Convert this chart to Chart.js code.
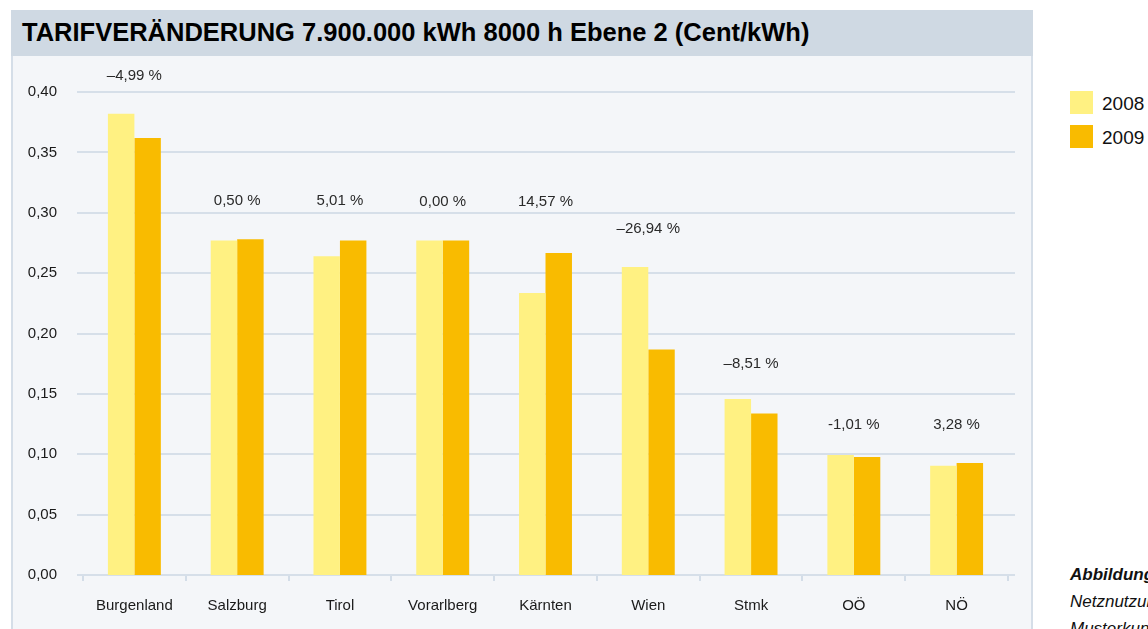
<!DOCTYPE html>
<html>
<head>
<meta charset="utf-8">
<script src="https://cdn.jsdelivr.net/npm/chart.js@4"></script>
<style>
  html, body { margin: 0; padding: 0; background: #fff; width: 1148px; height: 629px; overflow: hidden; font-family: "Liberation Sans", Arial, sans-serif; }
  .titel { position: absolute; left: 11px; top: 10px; width: 1022px; height: 46px; background: #cfd9e3; }
  .titel span { position: absolute; left: 11px; top: 8px; font-weight: bold; font-size: 25.5px; color: #000; white-space: nowrap; }
  .panel { position: absolute; left: 11px; top: 56px; width: 1018px; height: 580px; background: #f4f6f9; border-left: 2px solid #d5dee8; border-right: 2px solid #d5dee8; }
  #graficoTarif { position: absolute; left: 12px; top: 56px; }
  .legende { position: absolute; left: 1070px; top: 91px; font-size: 19px; color: #111; }
  .legende div { height: 34px; white-space: nowrap; }
  .legende i { display: inline-block; width: 23px; height: 23px; vertical-align: top; margin-right: 9px; }
  .legende span { display: inline-block; line-height: 25px; vertical-align: top; }
  .caption { position: absolute; left: 1070px; top: 561px; font-size: 17px; font-style: italic; color: #111; white-space: nowrap; line-height: 27px; }
</style>
</head>
<body>
<div class="titel"><span>TARIFVERÄNDERUNG 7.900.000 kWh 8000 h Ebene 2 (Cent/kWh)</span></div>
<div class="panel"></div>
<canvas id="graficoTarif" width="1021" height="573"></canvas>
<div class="legende">
  <div><i style="background:#fff182"></i><span>2008</span></div>
  <div><i style="background:#f9bb00"></i><span>2009</span></div>
</div>
<div class="caption"><b>Abbildung 12:</b><br>Netznutzungstarife<br>Musterkunde</div>
<script>
const categorias = ['Burgenland', 'Salzburg', 'Tirol', 'Vorarlberg', 'Kärnten', 'Wien', 'Stmk', 'OÖ', 'NÖ'];
const werte2008 = [0.382, 0.277, 0.264, 0.277, 0.2335, 0.255, 0.1458, 0.0994, 0.0905];
const werte2009 = [0.362, 0.278, 0.277, 0.277, 0.2667, 0.1868, 0.1338, 0.0977, 0.0928];
const veraenderung = ['–4,99 %', '0,50 %', '5,01 %', '0,00 %', '14,57 %', '–26,94 %', '–8,51 %', '-1,01 %', '3,28 %'];
// altura (en Cent/kWh) donde va cada etiqueta de porcentaje
const etiquetaHoehe = [0.413, 0.310, 0.310, 0.309, 0.309, 0.287, 0.175, 0.124, 0.124];
const yTicks = ['0,00', '0,05', '0,10', '0,15', '0,20', '0,25', '0,30', '0,35', '0,40'];

const fuente = '"Liberation Sans", Arial, sans-serif';

// lineas horizontales un poco mas largas que el area
const gitterPlugin = {
  id: 'gitter',
  beforeDatasetsDraw(chart) {
    const { ctx, chartArea, scales } = chart;
    ctx.save();
    ctx.strokeStyle = '#d6dfe9';
    ctx.lineWidth = 2;
    scales.y.ticks.forEach(t => {
      const y = Math.round(scales.y.getPixelForValue(t.value));
      ctx.beginPath();
      ctx.moveTo(chartArea.left - 6, y);
      ctx.lineTo(chartArea.right + 7, y);
      ctx.stroke();
    });
    ctx.restore();
  }
};

// etiquetas de porcentaje encima de cada par
const prozentPlugin = {
  id: 'prozent',
  afterDatasetsDraw(chart) {
    const { ctx, scales } = chart;
    ctx.save();
    ctx.font = '15px ' + fuente;
    ctx.fillStyle = '#2a2a2a';
    ctx.textAlign = 'center';
    ctx.textBaseline = 'middle';
    categorias.forEach((c, i) => {
      const x = scales.x.getPixelForValue(i);
      const y = scales.y.getPixelForValue(etiquetaHoehe[i]);
      ctx.fillText(veraenderung[i], x, y);
    });
    ctx.restore();
  }
};

document.addEventListener('DOMContentLoaded', () => {
  const ctx = document.getElementById('graficoTarif').getContext('2d');
  new Chart(ctx, {
    type: 'bar',
    data: {
      labels: categorias,
      datasets: [
        { label: '2008', data: werte2008, backgroundColor: '#fff182', barPercentage: 1, categoryPercentage: 0.515 },
        { label: '2009', data: werte2009, backgroundColor: '#f9bb00', barPercentage: 1, categoryPercentage: 0.515 }
      ]
    },
    options: {
      responsive: false,
      animation: false,
      layout: { padding: { left: 0, right: 25, top: 36, bottom: 0 } },
      plugins: {
        legend: { display: false },
        tooltip: { enabled: false }
      },
      scales: {
        x: {
          grid: { display: true, drawOnChartArea: false, drawTicks: true, tickLength: 6, offset: true, color: '#d3dde8', lineWidth: 2 },
          border: { display: false },
          ticks: { color: '#1a1a1a', padding: 16, font: { size: 15, family: fuente } },
          afterFit(scale) { scale.height = 54; }
        },
        y: {
          min: 0,
          max: 0.4,
          grid: { display: false },
          border: { display: false },
          ticks: {
            stepSize: 0.05,
            color: '#1a1a1a',
            padding: 18,
            font: { size: 15, family: fuente },
            callback: (v, i) => yTicks[i]
          },
          afterFit(scale) { scale.width = 71; }
        }
      }
    },
    plugins: [gitterPlugin, prozentPlugin]
  });
});
</script>
</body>
</html>
